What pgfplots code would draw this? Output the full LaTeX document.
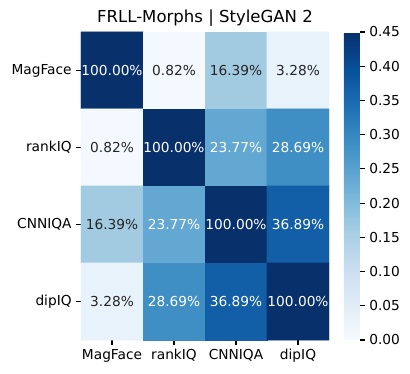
\documentclass[border=0pt]{standalone}
\usepackage{fontspec}
\setmainfont{DejaVu Sans}
\usepackage{pgfplots}
\pgfplotsset{compat=1.18}
\usepackage{pgfplotstable}

% agreement matrix (fraction of shared samples)
\pgfplotstableread{
x y v
0 0 1.0
1 0 0.0082
2 0 0.1639
3 0 0.0328
0 1 0.0082
1 1 1.0
2 1 0.2377
3 1 0.2869
0 2 0.1639
1 2 0.2377
2 2 1.0
3 2 0.3689
0 3 0.0328
1 3 0.2869
2 3 0.3689
3 3 1.0
}\agree

\pgfplotsset{
  colormap={blues}{rgb255(0)=(247,251,255) rgb255(1)=(222,235,247) rgb255(2)=(198,219,239)
    rgb255(3)=(158,202,225) rgb255(4)=(107,174,214) rgb255(5)=(66,146,198)
    rgb255(6)=(33,113,181) rgb255(7)=(8,81,156) rgb255(8)=(8,48,107)},
  cellnums/.style={draw=none, mark=none, point meta=explicit,
    nodes near coords={\pgfmathprintnumber[fixed,fixed zerofill,precision=2,assume math mode=true]{\pgfplotspointmeta}\%},
    every node near coord/.append style={anchor=center, font=\fontsize{10.3}{12}\selectfont}},
}

\begin{document}
\begin{tikzpicture}
\begin{axis}[
    name=main,
    scale only axis,
    width=186pt, height=231pt,
    xmin=-0.5, xmax=3.5, ymin=-0.5, ymax=3.5,
    y dir=reverse,
    xtick={0,1,2,3}, ytick={0,1,2,3},
    xticklabels={MagFace,rankIQ,CNNIQA,dipIQ},
    yticklabels={MagFace,rankIQ,CNNIQA,dipIQ},
    xtick pos=bottom, ytick pos=left,
    tick align=outside,
    major tick length=3.5pt,
    tick style={black, line width=0.8pt},
    axis line style={draw=none},
    ticklabel style={font=\fontsize{10.3}{12}\selectfont},
    title={FRLL-Morphs | StyleGAN 2},
    title style={font=\fontsize{12.4}{14}\selectfont, yshift=-5pt},
    colormap name=blues,
    point meta min=0, point meta max=0.45,
    colorbar,
    colorbar style={
        scale only axis,
        width=12pt,
        at={(parent axis.north east)}, anchor=north west, xshift=2.7pt,
        ytick={0,0.05,0.1,0.15,0.2,0.25,0.3,0.35,0.4,0.45},
        ytick pos=right,
        tick align=outside,
        major tick length=3.5pt,
        tick style={black, line width=0.8pt},
        axis line style={draw=none},
        yticklabel style={font=\fontsize{10.3}{12}\selectfont,
            /pgf/number format/.cd, fixed, fixed zerofill, precision=2, assume math mode=true},
    },
]
\addplot[matrix plot*, mesh/cols=4, point meta=explicit, draw=none]
    table[x=x, y=y, meta expr={min(\thisrow{v},0.45)}] {\agree};
% dark text on light cells
\addplot[cellnums, every node near coord/.append style={text=black!85},
    x filter/.expression={\thisrow{v}<0.2 ? x : nan}]
    table[x=x, y=y, meta expr={100*\thisrow{v}}] {\agree};
% white text on dark cells
\addplot[cellnums, every node near coord/.append style={text=white},
    x filter/.expression={\thisrow{v}>0.2 ? x : nan}]
    table[x=x, y=y, meta expr={100*\thisrow{v}}] {\agree};
\end{axis}
\path ([shift={(-60.75pt,-25.5pt)}]main.south west) rectangle ([shift={(246.75pt,255pt)}]main.south west);
\end{tikzpicture}
\end{document}
